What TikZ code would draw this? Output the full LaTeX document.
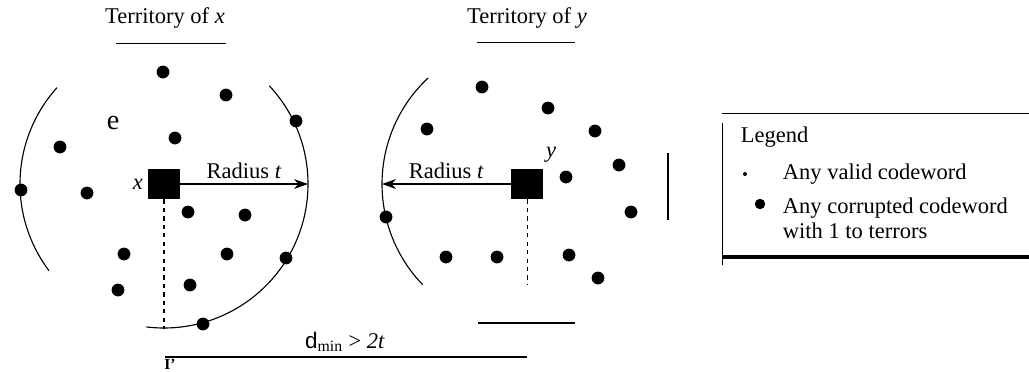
\documentclass[tikz,border=0pt]{standalone}
\usepackage{fontspec}
\setmainfont{Liberation Serif}
\newfontfamily\sansd{Liberation Sans}
\usetikzlibrary{arrows.meta}

\begin{document}
\begin{tikzpicture}[x=0.025cm,y=-0.025cm,font=\fontsize{16}{18}\selectfont]
\tikzset{dot/.style={circle,fill,inner sep=0pt,minimum size=0.32cm},
  word/.style={rectangle,fill,inner sep=0pt,minimum width=0.8cm,minimum height=0.76cm},
  rim/.style={line width=0.8pt}}
\useasboundingbox (0,0) rectangle (1029,371);
% territory of x
\node (tx) at (165,18) {Territory of \textit{x}};
\draw (116,43) -- (226,43);
\coordinate (cx) at (164,184);
\draw[rim] (cx) ++(-138:144) arc[start angle=-138, end angle=-217, radius=144];
\draw[rim] (cx) ++(-43:144) arc[start angle=-43, end angle=97, radius=144];
\node[word] (sx) at (cx) {};
\node[anchor=east] (lx) at (sx.west) {\textit{x}};
\node (e) at (113,123) {\fontsize{20}{22}\selectfont e};
\coordinate (rx) at (308,184);
\coordinate (bx) at (164,329);
\path[-{Stealth[length=10pt,width=7pt]}, line width=0.8pt] (sx) edge node[above] {Radius \textit{t}} (rx);
\draw[dashed, line width=0.8pt] (sx.south) -- (bx);
\foreach \px/\py [count=\i] in {163/72, 226/95, 296/121, 175/138, 60/147, 21/190, 87/193,
  188/212, 245/215, 124/254, 227/254, 286/258, 118/290, 190/285, 203/324}
  \node[dot] (dx\i) at (\px,\py) {};
% territory of y
\node (ty) at (527,18) {Territory of \textit{y}};
\draw (477,42) -- (575,42);
\coordinate (cy) at (527,184);
\draw[rim] (cy) ++(-133:145) arc[start angle=-133, end angle=-224, radius=145];
\node[word] (sy) at (cy) {};
\node (ly) at (551,155) {\textit{y}};
\coordinate (ry) at (382,184);
\coordinate (by) at (527,285);
\path[-{Stealth[length=10pt,width=7pt]}, line width=0.8pt] (sy) edge node[above] {Radius \textit{t}} (ry);
\draw[dashed, line width=0.6pt] (sy.south) -- (by);
\foreach \px/\py [count=\i] in {482/87, 548/108, 427/129, 595/131, 619/165, 566/177, 631/212,
  386/217, 446/257, 497/257, 569/255, 598/278}
  \node[dot] (dy\i) at (\px,\py) {};
\draw[line width=0.8pt] (668,153) -- (668,220);
\draw[line width=1pt] (478,323) -- (575,323);
% distance
\node (dmin) at (345,342) {{\sansd d}\textsubscript{min} > \textit{2t}};
\draw[line width=0.8pt] (165,357) -- (527,357);
\node[anchor=north west,inner sep=0pt] (ii) at (164,359) {\fontsize{11}{11}\selectfont\textbf{I'}};
% legend
\draw (722,113) -- (1029,113);
\draw (722,123) -- (722,265);
\draw[line width=2.2pt] (722,257) -- (1029,257);
\node[anchor=west] (leg) at (736,137) {Legend};
\node[circle,fill,inner sep=0pt,minimum size=0.1cm] (sd) at (745,174) {};
\node[anchor=west] (t1) at (778,174) {Any valid codeword};
\node[circle,fill,inner sep=0pt,minimum size=0.26cm] (bd) at (760,204) {};
\node[anchor=west,align=left] (t2) at (778,218) {Any corrupted codeword\\with 1 to terrors};
\end{tikzpicture}
\end{document}
